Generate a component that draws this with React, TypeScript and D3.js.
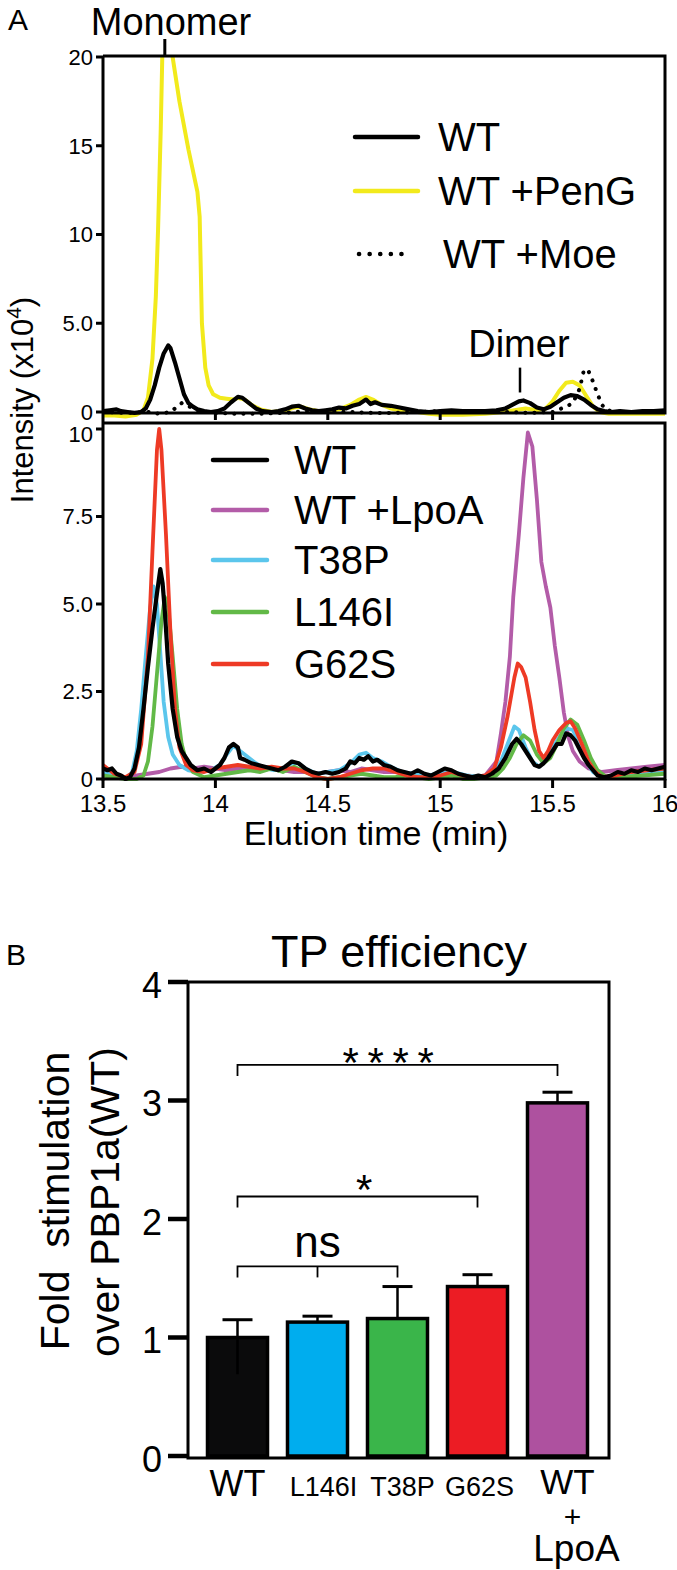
import React from "react";
import * as d3 from "d3";

const FONT = "'Liberation Sans', Arial, Helvetica, sans-serif";

// ---------------- Panel A data ----------------
const xTicks = [13.5, 14, 14.5, 15, 15.5, 16];
const xTickLabels = ["13.5", "14", "14.5", "15", "15.5", "16"];
const topYTicks = [0, 5, 10, 15, 20];
const topYTickLabels = ["0", "5.0", "10", "15", "20"];
const botYTicks = [0, 2.5, 5, 7.5, 10];
const botYTickLabels = ["0", "2.5", "5.0", "7.5", "10"];

type P = [number, number];

const topWT: P[] = [
  [13.5, 0.05], [13.53, 0.1], [13.56, 0.15], [13.58, 0.05], [13.61, 0.0], [13.64, -0.05], [13.67, 0.0],
  [13.69, 0.2], [13.71, 0.7], [13.73, 1.5], [13.75, 2.5], [13.77, 3.3], [13.79, 3.75], [13.8, 3.6],
  [13.82, 2.8], [13.84, 1.9], [13.86, 1.0], [13.88, 0.5], [13.9, 0.3], [13.92, 0.15], [13.95, 0.05],
  [13.98, 0.0], [14.01, 0.05], [14.04, 0.2], [14.07, 0.55], [14.1, 0.85], [14.12, 0.8], [14.15, 0.5],
  [14.18, 0.2], [14.21, 0.05], [14.25, 0.0], [14.28, 0.05], [14.31, 0.15], [14.34, 0.3], [14.37, 0.35],
  [14.4, 0.2], [14.43, 0.1], [14.46, 0.05], [14.49, 0.1], [14.52, 0.15], [14.55, 0.25], [14.58, 0.2],
  [14.61, 0.35], [14.64, 0.45], [14.67, 0.7], [14.69, 0.45], [14.71, 0.55], [14.74, 0.4], [14.78, 0.35],
  [14.82, 0.25], [14.86, 0.15], [14.9, 0.05], [14.95, 0.0], [15.0, 0.05], [15.05, 0.1], [15.1, 0.05],
  [15.15, 0.05], [15.2, 0.05], [15.25, 0.1], [15.29, 0.2], [15.32, 0.4], [15.35, 0.6], [15.37, 0.65],
  [15.4, 0.5], [15.43, 0.25], [15.46, 0.15], [15.49, 0.3], [15.52, 0.55], [15.55, 0.8], [15.58, 0.95],
  [15.61, 0.9], [15.64, 0.7], [15.67, 0.4], [15.7, 0.15], [15.73, 0.05], [15.76, 0.0], [15.8, 0.05],
  [15.85, 0.0], [15.9, 0.05], [15.95, 0.05], [16.0, 0.1],
];

const topPenG: P[] = [
  [13.5, -0.2], [13.55, -0.2], [13.6, -0.25], [13.65, -0.15], [13.68, 0.1], [13.7, 0.8], [13.72, 3.0],
  [13.735, 6.5], [13.745, 10.3], [13.757, 16], [13.765, 20.8], [13.8, 20.8], [13.84, 17.5], [13.88, 14.8],
  [13.92, 12.4], [13.93, 11.0], [13.94, 5.0], [13.955, 2.5], [13.97, 1.5], [13.99, 1.0], [14.02, 0.8],
  [14.05, 0.75], [14.08, 0.7], [14.1, 0.8], [14.13, 0.7], [14.16, 0.4], [14.2, 0.15], [14.25, 0.0],
  [14.3, 0.05], [14.35, 0.25], [14.38, 0.3], [14.42, 0.15], [14.46, 0.05], [14.5, 0.0], [14.55, 0.15],
  [14.6, 0.4], [14.64, 0.7], [14.67, 0.85], [14.7, 0.7], [14.74, 0.4], [14.78, 0.2], [14.84, 0.05],
  [14.9, 0.0], [14.95, -0.1], [15.0, -0.15], [15.1, -0.15], [15.2, -0.1], [15.28, 0.0], [15.33, 0.1],
  [15.38, 0.2], [15.43, 0.1], [15.47, 0.2], [15.5, 0.6], [15.53, 1.2], [15.56, 1.65], [15.59, 1.7],
  [15.62, 1.5], [15.65, 0.9], [15.68, 0.3], [15.71, 0.0], [15.75, -0.1], [15.85, -0.1], [16.0, -0.1],
];

const topMoe: P[] = [
  [13.5, 0.0], [13.6, -0.05], [13.7, 0.0], [13.75, -0.1], [13.8, 0.0], [13.83, 0.3], [13.85, 0.5],
  [13.87, 0.4], [13.9, 0.2], [13.93, 0.05], [14.0, -0.05], [14.1, -0.1], [14.2, -0.1], [14.3, -0.05],
  [14.4, 0.05], [14.5, 0.05], [14.6, 0.0], [14.7, -0.05], [14.8, -0.05], [14.9, 0.0], [15.0, 0.05],
  [15.1, 0.0], [15.2, 0.0], [15.3, 0.0], [15.4, -0.05], [15.5, 0.0], [15.56, 0.3], [15.59, 0.5],
  [15.62, 1.3], [15.64, 2.4], [15.66, 2.3], [15.68, 1.7], [15.7, 1.0], [15.72, 0.4], [15.74, 0.1],
  [15.8, 0.0], [15.9, 0.0], [16.0, 0.0],
];

const botWT: P[] = [
  [13.5, 0.3], [13.52, 0.25], [13.54, 0.3], [13.56, 0.15], [13.58, 0.1], [13.6, 0.0], [13.62, 0.05],
  [13.64, 0.3], [13.66, 0.9], [13.68, 2.0], [13.7, 3.2], [13.72, 4.3], [13.74, 5.3], [13.755, 6.0],
  [13.765, 5.6], [13.775, 4.8], [13.79, 3.3], [13.81, 2.0], [13.83, 1.2], [13.85, 0.8], [13.87, 0.6],
  [13.89, 0.4], [13.92, 0.25], [13.95, 0.3], [13.98, 0.2], [14.0, 0.3], [14.02, 0.4], [14.04, 0.6],
  [14.06, 0.9], [14.08, 1.0], [14.1, 0.9], [14.11, 0.6], [14.13, 0.55], [14.16, 0.45], [14.19, 0.4],
  [14.22, 0.35], [14.25, 0.3], [14.28, 0.25], [14.31, 0.35], [14.34, 0.5], [14.37, 0.45], [14.4, 0.3],
  [14.43, 0.2], [14.46, 0.15], [14.49, 0.2], [14.52, 0.15], [14.55, 0.2], [14.58, 0.3], [14.6, 0.5],
  [14.62, 0.45], [14.64, 0.6], [14.66, 0.55], [14.68, 0.65], [14.7, 0.5], [14.72, 0.55], [14.75, 0.4],
  [14.78, 0.35], [14.81, 0.25], [14.84, 0.2], [14.87, 0.15], [14.9, 0.25], [14.93, 0.15], [14.96, 0.1],
  [14.99, 0.2], [15.02, 0.3], [15.05, 0.25], [15.08, 0.15], [15.11, 0.1], [15.14, 0.05], [15.17, 0.1],
  [15.2, 0.05], [15.23, 0.15], [15.26, 0.3], [15.29, 0.6], [15.32, 1.0], [15.34, 1.15], [15.36, 1.0],
  [15.38, 0.8], [15.4, 0.6], [15.42, 0.4], [15.44, 0.35], [15.46, 0.45], [15.48, 0.6], [15.5, 0.8],
  [15.52, 1.0], [15.54, 1.0], [15.56, 1.3], [15.58, 1.25], [15.6, 1.1], [15.62, 0.85], [15.64, 0.6],
  [15.66, 0.4], [15.68, 0.25], [15.7, 0.1], [15.73, 0.05], [15.76, 0.1], [15.79, 0.2], [15.82, 0.15],
  [15.85, 0.25], [15.88, 0.2], [15.91, 0.3], [15.94, 0.25], [15.97, 0.3], [16.0, 0.35],
];

const botT38P: P[] = [
  [13.5, 0.2], [13.55, 0.1], [13.6, 0.0], [13.63, 0.2], [13.65, 0.8], [13.67, 2.0], [13.69, 3.5],
  [13.71, 4.9], [13.725, 5.5], [13.74, 5.0], [13.755, 3.6], [13.77, 2.2], [13.79, 1.2], [13.81, 0.7],
  [13.84, 0.4], [13.88, 0.25], [13.93, 0.2], [13.98, 0.25], [14.02, 0.4], [14.05, 0.7], [14.08, 0.95],
  [14.11, 0.8], [14.14, 0.65], [14.18, 0.45], [14.22, 0.3], [14.26, 0.25], [14.3, 0.3], [14.34, 0.45],
  [14.37, 0.45], [14.4, 0.3], [14.45, 0.15], [14.5, 0.2], [14.55, 0.25], [14.6, 0.45], [14.64, 0.7],
  [14.67, 0.75], [14.7, 0.6], [14.74, 0.5], [14.78, 0.35], [14.83, 0.2], [14.88, 0.15], [14.94, 0.1],
  [15.0, 0.15], [15.06, 0.2], [15.12, 0.1], [15.18, 0.05], [15.23, 0.15], [15.27, 0.5], [15.3, 1.0],
  [15.33, 1.5], [15.35, 1.4], [15.38, 0.9], [15.41, 0.5], [15.44, 0.35], [15.47, 0.55], [15.5, 0.9],
  [15.53, 1.2], [15.56, 1.45], [15.59, 1.4], [15.62, 1.0], [15.65, 0.5], [15.68, 0.2], [15.72, 0.05],
  [15.78, 0.1], [15.85, 0.15], [15.92, 0.2], [16.0, 0.25],
];

const botL146I: P[] = [
  [13.5, 0.1], [13.55, 0.05], [13.6, 0.0], [13.65, 0.0], [13.68, 0.1], [13.7, 0.5], [13.72, 1.5],
  [13.74, 3.0], [13.76, 4.5], [13.775, 5.2], [13.79, 4.9], [13.81, 3.5], [13.83, 2.0], [13.85, 1.0],
  [13.87, 0.5], [13.9, 0.2], [13.95, 0.05], [14.0, 0.1], [14.05, 0.15], [14.1, 0.2], [14.15, 0.25],
  [14.2, 0.2], [14.25, 0.3], [14.3, 0.2], [14.35, 0.35], [14.4, 0.2], [14.45, 0.05], [14.5, 0.0],
  [14.55, 0.05], [14.6, 0.1], [14.65, 0.15], [14.7, 0.1], [14.75, 0.05], [14.8, 0.05], [14.85, 0.1],
  [14.9, 0.05], [14.95, 0.0], [15.0, 0.05], [15.05, 0.1], [15.1, 0.0], [15.15, 0.0], [15.2, 0.05],
  [15.25, 0.1], [15.28, 0.3], [15.31, 0.6], [15.34, 1.0], [15.37, 1.25], [15.4, 1.1], [15.43, 0.7],
  [15.46, 0.45], [15.49, 0.6], [15.52, 1.0], [15.55, 1.45], [15.58, 1.7], [15.61, 1.55], [15.64, 1.1],
  [15.67, 0.6], [15.7, 0.25], [15.74, 0.05], [15.8, 0.05], [15.9, 0.1], [16.0, 0.15],
];

const botG62S: P[] = [
  [13.5, 0.4], [13.52, 0.3], [13.55, 0.15], [13.6, 0.05], [13.64, 0.2], [13.67, 1.0], [13.7, 3.5],
  [13.72, 6.5], [13.74, 9.4], [13.75, 10.0], [13.76, 9.4], [13.78, 7.0], [13.8, 4.2], [13.82, 2.0],
  [13.84, 0.9], [13.87, 0.4], [13.9, 0.25], [13.95, 0.2], [14.0, 0.3], [14.05, 0.35], [14.1, 0.4],
  [14.15, 0.35], [14.2, 0.3], [14.25, 0.35], [14.3, 0.3], [14.35, 0.3], [14.4, 0.2], [14.45, 0.05],
  [14.5, 0.0], [14.55, 0.05], [14.6, 0.15], [14.65, 0.25], [14.7, 0.3], [14.75, 0.3], [14.8, 0.2],
  [14.85, 0.1], [14.9, 0.05], [14.95, 0.05], [15.0, 0.1], [15.05, 0.2], [15.1, 0.1], [15.15, 0.05],
  [15.2, 0.1], [15.24, 0.3], [15.27, 0.9], [15.3, 1.8], [15.33, 2.9], [15.345, 3.3], [15.36, 3.2],
  [15.38, 2.9], [15.4, 2.2], [15.42, 1.4], [15.44, 0.8], [15.46, 0.6], [15.48, 0.8], [15.5, 1.1],
  [15.53, 1.4], [15.56, 1.6], [15.58, 1.65], [15.6, 1.45], [15.63, 1.0], [15.66, 0.5], [15.69, 0.2],
  [15.72, 0.05], [15.78, 0.1], [15.85, 0.2], [15.92, 0.25], [16.0, 0.3],
];

const botLpoA: P[] = [
  [13.5, 0.15], [13.55, 0.1], [13.6, 0.05], [13.65, 0.1], [13.7, 0.15], [13.75, 0.2], [13.8, 0.3],
  [13.85, 0.35], [13.9, 0.3], [13.95, 0.35], [14.0, 0.3], [14.05, 0.25], [14.1, 0.3], [14.15, 0.35],
  [14.2, 0.25], [14.25, 0.3], [14.3, 0.25], [14.35, 0.2], [14.4, 0.2], [14.45, 0.15], [14.5, 0.2],
  [14.55, 0.25], [14.6, 0.2], [14.65, 0.3], [14.7, 0.25], [14.75, 0.2], [14.8, 0.2], [14.85, 0.15],
  [14.9, 0.15], [14.95, 0.1], [15.0, 0.15], [15.05, 0.2], [15.1, 0.1], [15.15, 0.05], [15.2, 0.1],
  [15.25, 0.5], [15.27, 1.3], [15.29, 2.2], [15.31, 3.5], [15.325, 5.2], [15.35, 7.0], [15.37, 8.6],
  [15.39, 9.9], [15.41, 9.5], [15.43, 8.0], [15.45, 6.2], [15.47, 5.5], [15.49, 4.9], [15.51, 3.8],
  [15.53, 2.9], [15.55, 1.9], [15.57, 1.2], [15.59, 0.8], [15.62, 0.5], [15.66, 0.3], [15.72, 0.2],
  [15.78, 0.25], [15.85, 0.3], [15.92, 0.35], [16.0, 0.4],
];

const topLegendLabels = ["WT", "WT +PenG", "WT +Moe"];
const botLegendLabels = ["WT", "WT +LpoA", "T38P", "L146I", "G62S"];

// ---------------- Panel B data ----------------
const barCategories = ["WT", "L146I", "T38P", "G62S", "WT+LpoA"];
const barValues = [1.0, 1.13, 1.16, 1.43, 2.98];
const barErrUp = [0.15, 0.05, 0.27, 0.1, 0.09];
const barErrDown = [0.31, 0, 0, 0, 0];
const barYTicks = [0, 1, 2, 3, 4];
const bracketFrom = [0, 0, 0];
const bracketTo = [4, 3, 2];
const bracketLevel = [3.3, 2.19, 1.6];
const bracketLabels = ["* * * *", "*", "ns"];

// ---------------- styles ----------------
const C_YELLOW = "#f2ea1c";
const C_PURPLE = "#b35ca8";
const C_CYAN = "#5bc6ec";
const C_GREEN = "#62b947";
const C_RED = "#ee3a25";
const barColors = ["#0b0b0c", "#00adee", "#3ab54a", "#ec1c24", "#ae519f"];

export default function App() {
  const x = d3.scaleLinear().domain([13.5, 16]).range([103, 665]);
  const yTop = d3.scaleLinear().domain([0, 20]).range([412, 57]);
  const yBot = d3.scaleLinear().domain([0, 10]).range([779, 429]);
  const lineTop = d3.line<P>().x((d) => x(d[0])).y((d) => yTop(d[1]));
  const lineBot = d3.line<P>().x((d) => x(d[0])).y((d) => yBot(d[1]));

  const xb = d3.scaleBand<string>().domain(barCategories).range([197.5, 597.5]).paddingInner(0.25).paddingOuter(0.125);
  const yb = d3.scaleLinear().domain([0, 4]).range([1456, 982]);

  const topFrame = { l: 103, r: 665, t: 56, b: 413 };
  const botFrame = { l: 103, r: 665, t: 423, b: 779 };
  const bFrame = { l: 188, r: 609, t: 982, b: 1458 };

  const topLegendY = [137, 191, 254];
  const botLegendY = [460, 510, 560, 612, 664];
  const botLegendColors = ["#000", C_PURPLE, C_CYAN, C_GREEN, C_RED];
  const bracketLabelDx = [-10, 6, 0];
  const labelDx = [0, 6, 5, 2, 10];

  const tickFs = 22;

  return (
    <svg width={677} height={1570} style={{ position: "absolute", left: 0, top: 0, background: "#fff" }} fontFamily={FONT}>
      <rect x={0} y={0} width={677} height={1570} fill="#fff" />
      <defs>
        <clipPath id="clipTop">
          <rect x={topFrame.l} y={topFrame.t} width={topFrame.r - topFrame.l} height={topFrame.b - topFrame.t + 10} />
        </clipPath>
        <clipPath id="clipBot">
          <rect x={botFrame.l} y={botFrame.t} width={botFrame.r - botFrame.l} height={botFrame.b - botFrame.t + 10} />
        </clipPath>
      </defs>

      {/* ---------- Panel A ---------- */}
      <text x={8} y={30} fontSize={30}>A</text>
      <text x={171} y={35} fontSize={38} textAnchor="middle">Monomer</text>
      <line x1={x(13.775)} x2={x(13.775)} y1={39} y2={topFrame.t} stroke="#000" strokeWidth={3} />

      {/* top traces */}
      <g clipPath="url(#clipTop)" fill="none" strokeLinejoin="round">
        <path d={lineTop(topPenG) || ""} stroke={C_YELLOW} strokeWidth={4} />
        <path d={lineTop(topMoe) || ""} stroke="#000" strokeWidth={4} strokeDasharray="0.1 9" strokeLinecap="round" />
        <path d={lineTop(topWT) || ""} stroke="#000" strokeWidth={4.2} />
      </g>

      {/* Dimer annotation */}
      <text x={x(15.35)} y={357} fontSize={38} textAnchor="middle">Dimer</text>
      <line x1={x(15.355)} x2={x(15.355)} y1={yTop(2.5)} y2={yTop(1.1)} stroke="#000" strokeWidth={2.5} />

      {/* top legend */}
      {topLegendLabels.map((lab, i) => (
        <g key={lab}>
          {i < 2 ? (
            <line x1={355} x2={418} y1={topLegendY[i]} y2={topLegendY[i]} stroke={i === 0 ? "#000" : C_YELLOW} strokeWidth={4.5} strokeLinecap="round" />
          ) : (
            <line x1={359} x2={412} y1={topLegendY[i]} y2={topLegendY[i]} stroke="#000" strokeWidth={4.5} strokeDasharray="0.1 10.5" strokeLinecap="round" />
          )}
          <text x={i < 2 ? 438 : 443} y={topLegendY[i] + 14} fontSize={40} style={{ whiteSpace: "pre" }}>{lab}</text>
        </g>
      ))}

      {/* top frame */}
      <g stroke="#000" strokeWidth={3} fill="none">
        <path d={`M${topFrame.l},${topFrame.t}H${topFrame.r}V${topFrame.b}H${topFrame.l}`} />
        {xTicks.slice(1, -1).map((t) => (
          <line key={t} x1={x(t)} x2={x(t)} y1={topFrame.b} y2={topFrame.b + 7} />
        ))}
        {topYTicks.map((t) => (
          <line key={t} x1={96} x2={topFrame.l} y1={yTop(t)} y2={yTop(t)} />
        ))}
      </g>
      {topYTicks.map((t, i) => (
        <text key={t} x={93} y={yTop(t) + tickFs * 0.36} fontSize={tickFs} textAnchor="end">{topYTickLabels[i]}</text>
      ))}

      {/* bottom traces */}
      <g clipPath="url(#clipBot)" fill="none" strokeLinejoin="round">
        <path d={lineBot(botLpoA) || ""} stroke={C_PURPLE} strokeWidth={3.8} />
        <path d={lineBot(botT38P) || ""} stroke={C_CYAN} strokeWidth={3.8} />
        <path d={lineBot(botL146I) || ""} stroke={C_GREEN} strokeWidth={3.8} />
        <path d={lineBot(botG62S) || ""} stroke={C_RED} strokeWidth={3.8} />
        <path d={lineBot(botWT) || ""} stroke="#000" strokeWidth={4.2} />
      </g>

      {/* bottom legend */}
      {botLegendLabels.map((lab, i) => (
        <g key={lab}>
          <line x1={213} x2={267} y1={botLegendY[i]} y2={botLegendY[i]} stroke={botLegendColors[i]} strokeWidth={4.5} strokeLinecap="round" />
          <text x={294} y={botLegendY[i] + 14} fontSize={40} style={{ whiteSpace: "pre" }}>{lab}</text>
        </g>
      ))}

      {/* bottom frame */}
      <g stroke="#000" strokeWidth={3} fill="none">
        <path d={`M${botFrame.l},${botFrame.b}H${botFrame.r}V${botFrame.t}H${botFrame.l}`} />
        <line x1={topFrame.l} x2={topFrame.l} y1={topFrame.t} y2={botFrame.b + 1.5} />
        {xTicks.map((t) => (
          <line key={t} x1={x(t)} x2={x(t)} y1={botFrame.b} y2={botFrame.b + 9} />
        ))}
        {botYTicks.map((t) => (
          <line key={t} x1={96} x2={botFrame.l} y1={yBot(t)} y2={yBot(t)} />
        ))}
      </g>
      {botYTicks.map((t, i) => (
        <text key={t} x={93} y={yBot(t) + tickFs * 0.36 + (t === 10 ? 5 : 0)} fontSize={tickFs} textAnchor="end">{botYTickLabels[i]}</text>
      ))}
      {xTicks.map((t, i) => (
        <text key={t} x={x(t)} y={812} fontSize={24} textAnchor="middle">{xTickLabels[i]}</text>
      ))}
      <text x={376} y={845} fontSize={34} textAnchor="middle">Elution time (min)</text>
      <text transform="translate(33,400) rotate(-90)" fontSize={31} textAnchor="middle">
        Intensity (x10<tspan dy={-12} fontSize={21}>4</tspan><tspan dy={12}>)</tspan>
      </text>

      {/* ---------- Panel B ---------- */}
      <text x={6} y={965} fontSize={30}>B</text>
      <text x={399} y={967} fontSize={45} textAnchor="middle">TP efficiency</text>

      {/* bars */}
      {barCategories.map((c, i) => (
        <rect key={c} x={xb(c)} y={yb(barValues[i])} width={xb.bandwidth()} height={yb(0) - yb(barValues[i])}
          fill={barColors[i]} stroke="#000" strokeWidth={3.5} />
      ))}
      {/* error bars */}
      <g stroke="#000" strokeWidth={2.5}>
        {barCategories.map((c, i) => {
          const cx = (xb(c) as number) + xb.bandwidth() / 2;
          const top = yb(barValues[i] + barErrUp[i]);
          return (
            <g key={c}>
              <line x1={cx} x2={cx} y1={top} y2={yb(barValues[i] - barErrDown[i])} />
              <line x1={cx - 15} x2={cx + 15} y1={top} y2={top} strokeWidth={3} />
            </g>
          );
        })}
      </g>

      {/* brackets */}
      <g stroke="#000" strokeWidth={1.8} fill="none">
        {bracketLevel.map((lv, i) => {
          const x1 = (xb(barCategories[bracketFrom[i]]) as number) + xb.bandwidth() / 2;
          const x2 = (xb(barCategories[bracketTo[i]]) as number) + xb.bandwidth() / 2;
          const y = yb(lv);
          const midX = (xb(barCategories[1]) as number) + xb.bandwidth() / 2;
          return (
            <g key={i}>
              <path d={`M${x1},${y + 11}V${y}H${x2}V${y + 11}`} />
              {bracketLabels[i] === "ns" && <line x1={midX} x2={midX} y1={y} y2={y + 11} />}
            </g>
          );
        })}
      </g>
      {bracketLevel.map((lv, i) => {
        const x1 = (xb(barCategories[bracketFrom[i]]) as number) + xb.bandwidth() / 2;
        const x2 = (xb(barCategories[bracketTo[i]]) as number) + xb.bandwidth() / 2;
        const isNs = bracketLabels[i] === "ns";
        return (
          <text key={i} x={(x1 + x2) / 2 + bracketLabelDx[i]} y={yb(lv) + (isNs ? -9 : i === 0 ? 12 : 8)}
            fontSize={isNs ? 44 : 42} letterSpacing={isNs ? 0 : -1.5} textAnchor="middle" style={{ whiteSpace: "pre" }}>{bracketLabels[i]}</text>
        );
      })}

      {/* B frame */}
      <g stroke="#000" strokeWidth={3} fill="none">
        <path d={`M${bFrame.l},${bFrame.t}H${bFrame.r}V${bFrame.b}H${bFrame.l}Z`} />
      </g>
      <g stroke="#000" strokeWidth={4.5}>
        {barYTicks.map((t) => (
          <line key={t} x1={168} x2={bFrame.l} y1={yb(t)} y2={yb(t)} />
        ))}
      </g>
      {barYTicks.map((t) => (
        <text key={t} x={162} y={yb(t) + 36 * 0.36 + 3} fontSize={36} textAnchor="end">{String(t)}</text>
      ))}

      {/* bar x labels */}
      {barCategories.map((c, i) => {
        const cx = (xb(c) as number) + xb.bandwidth() / 2 + labelDx[i];
        if (c === "WT") return <text key={c} x={cx} y={1496} fontSize={36} textAnchor="middle">WT</text>;
        if (c === "WT+LpoA")
          return (
            <g key={c}>
              <text x={cx} y={1494} fontSize={35} textAnchor="middle">WT</text>
              <text x={cx + 5} y={1527} fontSize={30} textAnchor="middle">+</text>
              <text x={cx + 9} y={1561} fontSize={37} textAnchor="middle">LpoA</text>
            </g>
          );
        return <text key={c} x={cx} y={1496} fontSize={27} textAnchor="middle">{c}</text>;
      })}

      {/* Y label B */}
      <text transform="translate(69,1201) rotate(-90)" fontSize={41} textAnchor="middle" style={{ whiteSpace: "pre" }}>Fold  stimulation</text>
      <text transform="translate(119,1202) rotate(-90)" fontSize={41} textAnchor="middle">over PBP1a(WT)</text>
    </svg>
  );
}
